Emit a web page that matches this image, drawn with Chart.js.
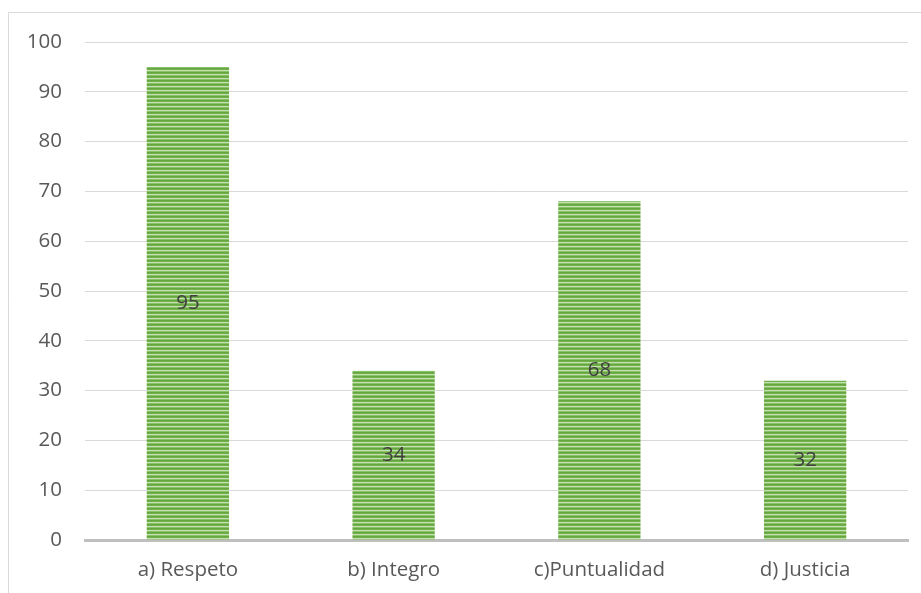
<!DOCTYPE html>
<html>
<head>
<meta charset="utf-8">
<script src="https://cdn.jsdelivr.net/npm/chart.js@4/dist/chart.umd.min.js"></script>
<style>
  html, body { margin: 0; padding: 0; background: #ffffff; }
  #wrap { position: relative; width: 921px; height: 593px; }
</style>
</head>
<body>
<div id="wrap"><canvas id="c" width="921" height="593"></canvas></div>
<script>
// Valores por categoría
const categories = ['a) Respeto', 'b) Integro', 'c)Puntualidad', 'd) Justicia'];
const values = [95, 34, 68, 32];
const yTicks = [0, 10, 20, 30, 40, 50, 60, 70, 80, 90, 100];

// Relleno a rayas horizontales para las barras
function stripePattern() {
  const p = document.createElement('canvas');
  p.width = 8; p.height = 4;
  const g = p.getContext('2d');
  const rows = ['#66a640', '#72b04b', '#c4dfb0', '#8ac268'];
  rows.forEach((col, i) => { g.fillStyle = col; g.fillRect(0, i, 8, 1); });
  return g.createPattern(p, 'repeat');
}

const FONT = "'Open Sans', 'Liberation Sans', sans-serif";
const SIZE = 20.5;

// Marco exterior del gráfico
const framePlugin = {
  id: 'frame',
  beforeDraw(chart) {
    const ctx = chart.ctx;
    ctx.save();
    ctx.strokeStyle = '#d9d9d9';
    ctx.lineWidth = 1;
    ctx.beginPath();
    ctx.moveTo(8.5, 600);
    ctx.lineTo(8.5, 12.5);
    ctx.lineTo(930, 12.5);
    ctx.stroke();
    ctx.restore();
  }
};

// Etiqueta de valor centrada en cada barra
const valueLabels = {
  id: 'valueLabels',
  afterDatasetsDraw(chart) {
    const ctx = chart.ctx;
    const meta = chart.getDatasetMeta(0);
    ctx.save();
    ctx.font = SIZE + 'px ' + FONT;
    ctx.fillStyle = '#404040';
    ctx.textAlign = 'center';
    ctx.textBaseline = 'middle';
    meta.data.forEach((bar, i) => {
      const mid = (bar.y + bar.base) / 2;
      ctx.fillText(String(values[i]), bar.x, mid);
    });
    ctx.restore();
  }
};

new Chart(document.getElementById('c'), {
  type: 'bar',
  data: {
    labels: categories,
    datasets: [{
      data: values,
      backgroundColor: stripePattern(),
      borderWidth: 0,
      categoryPercentage: 1.0,
      barPercentage: 0.4
    }]
  },
  options: {
    responsive: false,
    animation: false,
    events: [],
    layout: { padding: { left: 8, top: 42, right: 13, bottom: 0 } },
    plugins: { legend: { display: false }, tooltip: { enabled: false } },
    scales: {
      x: {
        grid: { display: false, drawTicks: false },
        border: { display: true, color: '#bfbfbf', width: 3 },
        ticks: { color: '#595959', font: { family: FONT, size: SIZE }, padding: 18 },
        afterFit(scale) { scale.height = 53; }
      },
      y: {
        min: 0, max: 100,
        afterBuildTicks(scale) { scale.ticks = yTicks.map(v => ({ value: v })); },
        grid: {
          drawTicks: false,
          color: ctx => (ctx.tick && ctx.tick.value === 0) ? 'rgba(0,0,0,0)' : '#d9d9d9',
          lineWidth: 1
        },
        border: { display: false },
        ticks: { color: '#595959', font: { family: FONT, size: SIZE }, padding: 23 },
        afterFit(scale) { scale.width = 77; }
      }
    }
  },
  plugins: [framePlugin, valueLabels]
});
</script>
</body>
</html>
